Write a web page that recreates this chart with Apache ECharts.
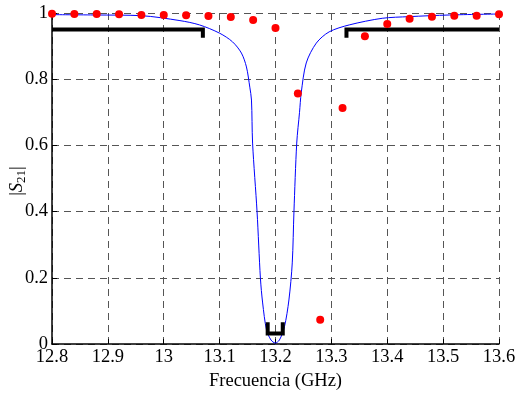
<!DOCTYPE html>
<html>
<head>
<meta charset="utf-8">
<script src="https://cdn.jsdelivr.net/npm/echarts@6/dist/echarts.min.js"></script>
<style>
  html, body { margin: 0; padding: 0; background: #fff; }
  #chart { width: 517px; height: 394px; }
</style>
</head>
<body>
<div id="chart"></div>
<script>
// medidas (puntos rojos)
const measFreq = [12.80, 12.84, 12.88, 12.92, 12.96, 13.00, 13.04, 13.08, 13.12, 13.16,
  13.20, 13.24, 13.28, 13.32, 13.36, 13.40, 13.44, 13.48, 13.52, 13.56, 13.60];
const measS21 = [0.998, 0.997, 0.997, 0.996, 0.994, 0.994, 0.993, 0.991, 0.988, 0.979,
  0.955, 0.757, 0.073, 0.713, 0.930, 0.967, 0.983, 0.989, 0.992, 0.992, 0.996];

// simulacion (curva azul)
const simFreq = [12.800, 12.879, 12.959, 13.029, 13.064, 13.100, 13.123, 13.139, 13.148, 13.154,
  13.157, 13.159, 13.167, 13.173, 13.177, 13.184, 13.192, 13.1995, 13.207, 13.216,
  13.224, 13.230, 13.233, 13.238, 13.243, 13.246, 13.255, 13.273, 13.296, 13.332,
  13.391, 13.439, 13.511, 13.600];
const simS21 = [0.995, 0.994, 0.992, 0.977, 0.964, 0.939, 0.913, 0.879, 0.837, 0.776,
  0.737, 0.607, 0.399, 0.199, 0.124, 0.042, 0.012, 0.003, 0.012, 0.052,
  0.133, 0.245, 0.399, 0.607, 0.700, 0.758, 0.849, 0.909, 0.943, 0.964,
  0.984, 0.989, 0.994, 0.997];

// mascaras (lineas negras)
const maskLeft = [[12.8, 0.95], [13.07, 0.95], [13.07, 0.925]];
const maskRight = [[13.327, 0.925], [13.327, 0.95], [13.6, 0.95]];
const maskBottom = [[13.186, 0.066], [13.186, 0.032], [13.213, 0.032], [13.213, 0.066]];

const xTicks = ['12.8', '12.9', '13', '13.1', '13.2', '13.3', '13.4', '13.5', '13.6'];

const font = 'Liberation Serif';
const fs = 18.5;
const gridDash = { color: '#555', width: 1, type: [7, 5] };

const chart = echarts.init(document.getElementById('chart'));

function maskSeries(data) {
  return {
    type: 'line',
    data: data,
    symbol: 'none',
    lineStyle: { color: '#000', width: 4, cap: 'butt', join: 'miter' },
    z: 4
  };
}

chart.setOption({
  animation: false,
  backgroundColor: '#fff',
  textStyle: { fontFamily: font },
  grid: { left: 52, right: 18, top: 13, bottom: 50, outerBoundsMode: 'none', containLabel: false },
  // etiqueta del eje y: |S21| con S en cursiva y 21 como subindice
  graphic: [{
    type: 'text',
    x: 17,
    y: 181,
    rotation: Math.PI / 2,
    style: {
      text: '|{i|S}{s|21}|',
      fontFamily: font,
      fontSize: fs,
      fill: '#000',
      align: 'center',
      verticalAlign: 'middle',
      rich: {
        i: { fontFamily: font, fontSize: fs, fontStyle: 'italic', fill: '#000' },
        s: { fontFamily: font, fontSize: 13, fill: '#000', padding: [9, 0, 0, 0] }
      }
    }
  }],
  xAxis: {
    type: 'value',
    min: 12.8,
    max: 13.6,
    interval: 0.1,
    name: 'Frecuencia (GHz)',
    nameLocation: 'middle',
    nameGap: 28,
    nameTextStyle: { fontFamily: font, fontSize: fs, color: '#000' },
    axisLine: { lineStyle: { color: '#000', width: 1.5 } },
    axisTick: { inside: true, length: 5, lineStyle: { color: '#000' } },
    axisLabel: {
      fontFamily: font, fontSize: fs, color: '#000', margin: 4,
      formatter: (v) => xTicks[Math.round((v - 12.8) / 0.1)]
    },
    splitLine: { show: true, lineStyle: gridDash }
  },
  yAxis: {
    type: 'value',
    min: 0,
    max: 1,
    interval: 0.2,
    axisLine: { lineStyle: { color: '#000', width: 1.5 } },
    axisTick: { inside: true, length: 5, lineStyle: { color: '#000' } },
    axisLabel: {
      fontFamily: font, fontSize: fs, color: '#000', margin: 4,
      formatter: (v) => (v === 0 || v === 1) ? String(v) : v.toFixed(1)
    },
    splitLine: { show: true, lineStyle: gridDash }
  },
  series: [
    {
      type: 'line',
      data: simFreq.map((f, i) => [f, simS21[i]]),
      symbol: 'none',
      smooth: 0.3,
      lineStyle: { color: '#0000ff', width: 1 },
      z: 3
    },
    maskSeries(maskLeft),
    maskSeries(maskRight),
    maskSeries(maskBottom),
    {
      type: 'scatter',
      data: measFreq.map((f, i) => [f, measS21[i]]),
      symbol: 'circle',
      symbolSize: 8,
      itemStyle: { color: '#ff0000', opacity: 1 },
      z: 5
    }
  ]
});
</script>
</body>
</html>
